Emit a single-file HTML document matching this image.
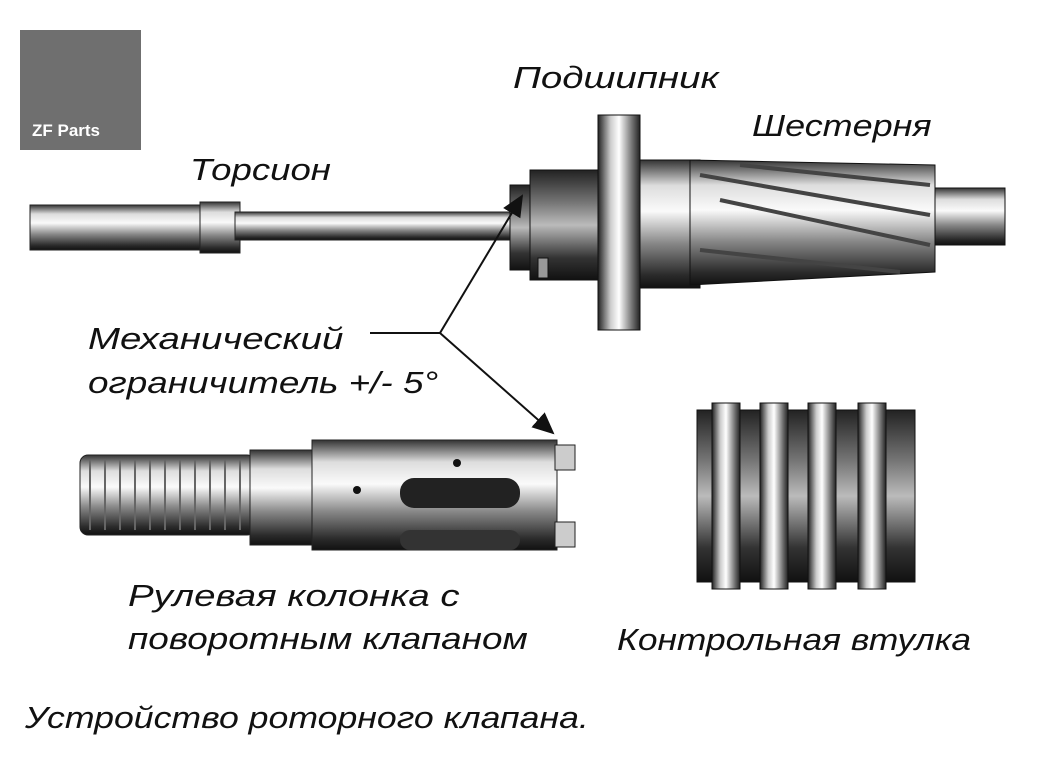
<!DOCTYPE html>
<html><head><meta charset="utf-8"><style>
body{margin:0;background:#fff;width:1058px;height:781px;overflow:hidden;position:relative;font-family:"Liberation Sans",sans-serif}
.t{position:absolute;font-size:31px;font-style:italic;color:#111;white-space:nowrap;line-height:1;transform-origin:0 0}
svg{position:absolute;left:0;top:0}
</style></head><body>
<svg width="1058" height="781" viewBox="0 0 1058 781">
<defs>
<linearGradient id="m" x1="0" y1="0" x2="0" y2="1">
<stop offset="0" stop-color="#333"/><stop offset=".2" stop-color="#ddd"/><stop offset=".4" stop-color="#fafafa"/><stop offset=".65" stop-color="#888"/><stop offset=".9" stop-color="#2a2a2a"/><stop offset="1" stop-color="#111"/></linearGradient>
<linearGradient id="d" x1="0" y1="0" x2="0" y2="1">
<stop offset="0" stop-color="#222"/><stop offset=".3" stop-color="#777"/><stop offset=".5" stop-color="#bbb"/><stop offset=".8" stop-color="#333"/><stop offset="1" stop-color="#111"/></linearGradient>
<linearGradient id="h" x1="0" y1="0" x2="1" y2="0">
<stop offset="0" stop-color="#222"/><stop offset=".3" stop-color="#ccc"/><stop offset=".5" stop-color="#fff"/><stop offset=".8" stop-color="#777"/><stop offset="1" stop-color="#222"/></linearGradient>
<marker id="a" markerWidth="12" markerHeight="12" refX="10" refY="5" orient="auto"><path d="M0,0L11,5L0,10z" fill="#111"/></marker>
</defs>
<rect x="20" y="30" width="121" height="120" fill="#6f6f6f"/>
<text x="32" y="136" fill="#fff" font-size="17" font-weight="bold" font-family="Liberation Sans">ZF Parts</text>
<rect x="30" y="205" width="205" height="45" fill="url(#m)" stroke="#222"/>
<rect x="200" y="202" width="40" height="51" fill="url(#m)" stroke="#222"/>
<rect x="235" y="212" width="285" height="28" fill="url(#m)" stroke="#222"/>
<rect x="510" y="185" width="30" height="85" fill="url(#d)" stroke="#111"/>
<rect x="530" y="170" width="75" height="110" fill="url(#d)" stroke="#111"/>
<rect x="598" y="115" width="42" height="215" fill="url(#h)" stroke="#111"/>
<rect x="640" y="160" width="60" height="128" fill="url(#m)" stroke="#111"/>
<path d="M690 160L935 165L935 272L690 285z" fill="url(#m)" stroke="#111"/>
<path d="M700 175L930 215M720 200L930 245M700 250L900 272M740 165L930 185" stroke="#444" stroke-width="4" fill="none"/>
<rect x="935" y="188" width="70" height="57" fill="url(#m)" stroke="#111"/>
<rect x="538" y="258" width="10" height="20" fill="#999" stroke="#111"/>
<rect x="80" y="455" width="175" height="80" rx="8" fill="url(#m)" stroke="#222"/>
<path d="M90 460v70M105 460v70M120 460v70M135 460v70M150 460v70M165 460v70M180 460v70M195 460v70M210 460v70M225 460v70M240 460v70" stroke="#666" stroke-width="2"/>
<rect x="250" y="450" width="65" height="95" fill="url(#m)" stroke="#222"/>
<rect x="312" y="440" width="245" height="110" fill="url(#m)" stroke="#222"/>
<rect x="555" y="445" width="20" height="25" fill="#ccc" stroke="#222"/>
<rect x="555" y="522" width="20" height="25" fill="#ccc" stroke="#222"/>
<rect x="400" y="478" width="120" height="30" rx="14" fill="#222"/>
<rect x="400" y="530" width="120" height="20" rx="10" fill="#333"/>
<circle cx="357" cy="490" r="4" fill="#111"/><circle cx="457" cy="463" r="4" fill="#111"/>
<rect x="697" y="410" width="218" height="172" fill="url(#d)" stroke="#111"/>
<rect x="712" y="403" width="28" height="186" fill="url(#h)" stroke="#111"/>
<rect x="760" y="403" width="28" height="186" fill="url(#h)" stroke="#111"/>
<rect x="808" y="403" width="28" height="186" fill="url(#h)" stroke="#111"/>
<rect x="858" y="403" width="28" height="186" fill="url(#h)" stroke="#111"/>
<path d="M370 333H440" stroke="#111" stroke-width="2"/>
<path d="M440 333L522 196" stroke="#111" stroke-width="2" marker-end="url(#a)"/>
<path d="M440 333L553 433" stroke="#111" stroke-width="2" marker-end="url(#a)"/>
</svg>
<div class="t" style="left:513px;top:62px;transform:scaleX(1.24)">Подшипник</div>
<div class="t" style="left:752px;top:110px;transform:scaleX(1.16)">Шестерня</div>
<div class="t" style="left:190px;top:154px;transform:scaleX(1.18)">Торсион</div>
<div class="t" style="left:88px;top:323px;transform:scaleX(1.24)">Механический</div>
<div class="t" style="left:88px;top:367px;transform:scaleX(1.19)">ограничитель +/- 5°</div>
<div class="t" style="left:128px;top:580px;transform:scaleX(1.24)">Рулевая колонка с</div>
<div class="t" style="left:128px;top:623px;transform:scaleX(1.19)">поворотным клапаном</div>
<div class="t" style="left:617px;top:624px;transform:scaleX(1.14)">Контрольная втулка</div>
<div class="t" style="left:25px;top:702px;transform:scaleX(1.15)">Устройство роторного клапана.</div>
</body></html>
